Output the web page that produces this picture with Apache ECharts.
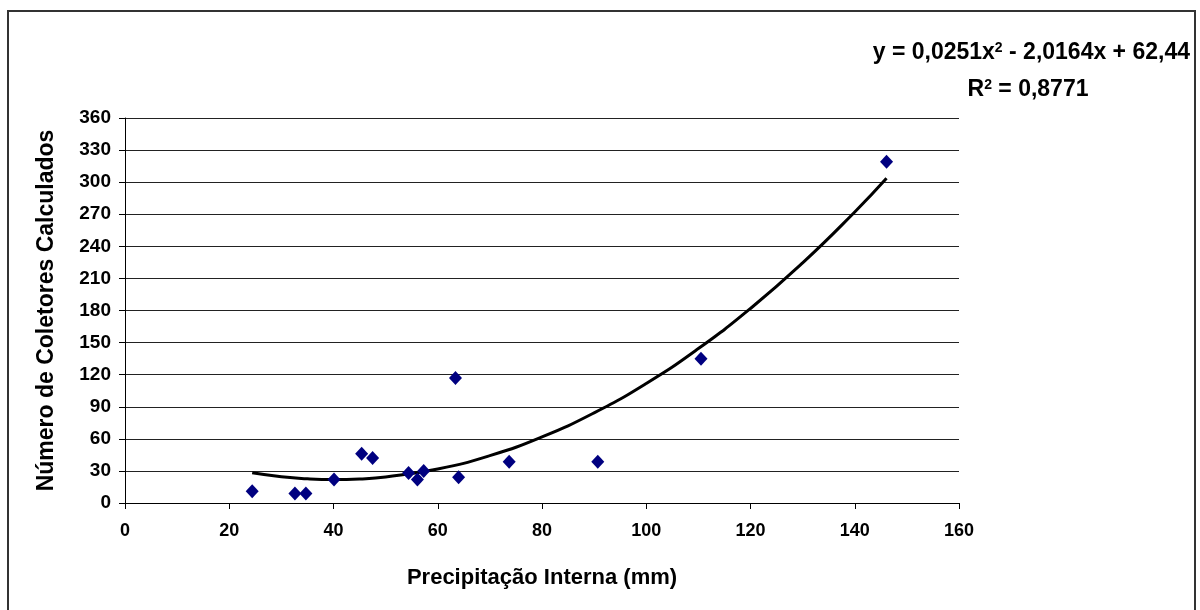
<!DOCTYPE html>
<html>
<head>
<meta charset="utf-8">
<script src="https://cdn.jsdelivr.net/npm/echarts@6/dist/echarts.min.js"></script>
<style>
html,body{margin:0;padding:0;background:#fff;}
#chart{width:1200px;height:610px;}
</style>
</head>
<body>
<div id="chart"></div>
<script>
const precipitacao = [24.4, 32.6, 34.7, 40.1, 45.4, 47.5, 54.4, 56.1, 57.3, 63.4, 64.0, 73.7, 90.7, 110.5, 146.1];
const coletores = [11, 9, 9, 22, 46, 42, 28, 22, 30, 117, 24, 38.5, 38.5, 135, 319];

// Polynomial trend line
const trendX = [24.4, 30, 35, 40, 45, 50, 60, 70, 80, 90, 100, 110, 120, 130, 140, 146.1];
const trendY = [28.2, 24.5, 22.6, 21.9, 22.5, 24.4, 31.8, 44.3, 61.8, 84.3, 111.8, 144.4, 181.9, 224.5, 272.1, 303.6];

const equationText = 'y = 0,0251x';
const equationRest = ' - 2,0164x + 62,44';
const r2Text = ' = 0,8771';

const xTitle = 'Precipitação Interna (mm)';
const yTitle = 'Número de Coletores Calculados';

const FONT = '"Liberation Sans", Arial, sans-serif';

const chart = echarts.init(document.getElementById('chart'), null, {renderer: 'canvas'});

const option = {
  backgroundColor: '#ffffff',
  animation: false,
  grid: {left: 125, right: 241, top: 118, bottom: 107, containLabel: false},
  xAxis: {
    type: 'value', min: 0, max: 160, interval: 20,
    name: xTitle, nameLocation: 'middle', nameGap: 64,
    nameTextStyle: {fontFamily: FONT, fontWeight: 'bold', fontSize: 22, color: '#000'},
    axisLine: {show: true, onZero: false, lineStyle: {color: '#000', width: 1}},
    axisTick: {show: true, inside: false, length: 6, lineStyle: {color: '#000'}},
    axisLabel: {fontFamily: FONT, fontWeight: 'bold', fontSize: 18, color: '#000', margin: 19},
    splitLine: {show: false}
  },
  yAxis: {
    type: 'value', min: 0, max: 360, interval: 30,
    name: yTitle, nameLocation: 'middle', nameGap: 67, nameRotate: 90,
    nameTextStyle: {fontFamily: FONT, fontWeight: 'bold', fontSize: 23, color: '#000'},
    axisLine: {show: true, onZero: false, lineStyle: {color: '#000', width: 1}},
    axisTick: {show: true, inside: false, length: 6, lineStyle: {color: '#000'}},
    axisLabel: {fontFamily: FONT, fontWeight: 'bold', fontSize: 19, color: '#000', margin: 14},
    splitLine: {show: true, lineStyle: {color: '#222', width: 1}}
  },
  series: [
    {
      name: 'Tendência',
      type: 'line',
      data: trendX.map((x, i) => [x, trendY[i]]),
      smooth: true,
      showSymbol: false,
      lineStyle: {color: '#000', width: 3},
      z: 2
    },
    {
      name: 'Coletores',
      type: 'scatter',
      data: precipitacao.map((x, i) => [x, coletores[i]]),
      symbol: 'diamond',
      symbolSize: [13, 14],
      itemStyle: {color: '#000080', opacity: 1},
      z: 3
    }
  ],
  graphic: [
    {
      type: 'rect',
      shape: {x: 8, y: 11, width: 1187, height: 620},
      style: {fill: 'none', stroke: '#333', lineWidth: 2},
      silent: true
    },
    {
      type: 'text',
      x: 1190, y: 53,
      style: {
        text: '{t|' + equationText + '}{s|2}{t|' + equationRest + '}',
        align: 'right', verticalAlign: 'middle',
        rich: {
          t: {fontFamily: FONT, fontWeight: 'bold', fontSize: 23, fill: '#000', verticalAlign: 'bottom'},
          s: {fontFamily: FONT, fontWeight: 'bold', fontSize: 14, fill: '#000', verticalAlign: 'top'}
        }
      }
    },
    {
      type: 'text',
      x: 1028, y: 90,
      style: {
        text: '{t|R}{s|2}{t|' + r2Text + '}',
        align: 'center', verticalAlign: 'middle',
        rich: {
          t: {fontFamily: FONT, fontWeight: 'bold', fontSize: 23, fill: '#000', verticalAlign: 'bottom'},
          s: {fontFamily: FONT, fontWeight: 'bold', fontSize: 14, fill: '#000', verticalAlign: 'top'}
        }
      }
    }
  ]
};

chart.setOption(option);
</script>
</body>
</html>
